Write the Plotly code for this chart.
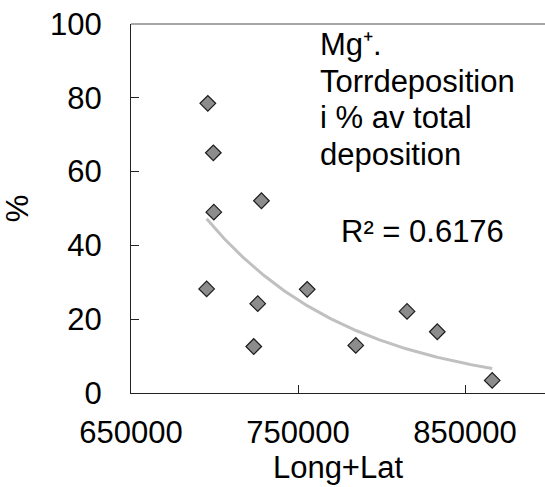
import numpy as np
import plotly.graph_objects as go

# Station coordinate index (Long+Lat) and dry deposition share of Mg+ (%)
long_lat = [696000, 699300, 699600, 728100, 695300, 725900, 723500,
            755500, 784600, 815300, 833400, 866300]
dry_share = [78.5, 65.1, 49.0, 52.1, 28.2, 24.2, 12.6,
             28.1, 12.9, 22.1, 16.6, 3.4]

x_ticks = [650000, 750000, 850000]
y_ticks = [0, 20, 40, 60, 80, 100]

title_lines = ["Mg⁺.", "Torrdeposition", "i % av total", "deposition"]
r2_label = "R² = 0.6176"

# Exponential trend line y = a * exp(b * x), fitted on log scale
xs = np.array(long_lat, dtype=float)
ys = np.array(dry_share, dtype=float)
b, ln_a = np.polyfit(xs, np.log(ys), 1)
x_fit = np.linspace(xs.min(), xs.max(), 200)
y_fit = np.exp(ln_a) * np.exp(b * x_fit)

FONT = "Liberation Sans, Arial, sans-serif"
FS = 31

# plot area in pixels: left 131, top 24, bottom 393, right edge 545
L, T, B, R = 131, 24, 393, 545


def px_x(px):
    return (px - L) / (R - L)


def px_y(py):
    return (B - py) / (B - T)


fig = go.Figure()
fig.add_trace(go.Scatter(
    x=x_fit, y=y_fit, mode="lines",
    line=dict(color="#c0c0c0", width=3),
    hoverinfo="skip", showlegend=False,
))
fig.add_trace(go.Scatter(
    x=long_lat, y=dry_share, mode="markers",
    marker=dict(symbol="diamond", size=12, color="#8c8c8c",
                line=dict(color="#1a1a1a", width=1.2)),
    showlegend=False,
))

annotations = []
for i, line in enumerate(title_lines):
    annotations.append(dict(
        text=line, xref="paper", yref="paper",
        x=px_x(318), y=px_y(44.5 + i * 36.7),
        xanchor="left", yanchor="middle", align="left", showarrow=False,
        font=dict(size=FS),
    ))
annotations.append(dict(
    text=r2_label, xref="paper", yref="paper",
    x=px_x(422), y=px_y(231),
    xanchor="center", yanchor="middle", showarrow=False,
    font=dict(size=FS),
))

fig.update_layout(
    width=545, height=487,
    margin=dict(l=L, r=0, t=T, b=487 - B),
    paper_bgcolor="white", plot_bgcolor="white",
    font=dict(family=FONT, size=FS, color="black"),
    xaxis=dict(
        range=[650000, 650000 + (R - L) / 167 * 100000],
        tickvals=x_ticks, ticktext=[str(v) for v in x_ticks],
        ticks="inside", ticklen=8, tickcolor="#222", tickwidth=1,
        showline=True, linecolor="#222", linewidth=1.2,
        showgrid=False, zeroline=False,
        ticklabelstandoff=12,
        title=dict(text="Long+Lat", font=dict(size=FS), standoff=6),
    ),
    yaxis=dict(
        range=[0, 100],
        tickvals=y_ticks,
        ticks="inside", ticklen=8, tickcolor="#222", tickwidth=1,
        showline=True, linecolor="#222", linewidth=1.2,
        showgrid=False, zeroline=False,
        ticklabelstandoff=22,
        title=dict(text="%", font=dict(size=FS), standoff=12),
    ),
    shapes=[dict(type="line", xref="paper", yref="paper",
                 x0=0, x1=1, y0=1, y1=1,
                 line=dict(color="#8a8a8a", width=1.5))],
    annotations=annotations,
)

fig.write_html("out.html")
